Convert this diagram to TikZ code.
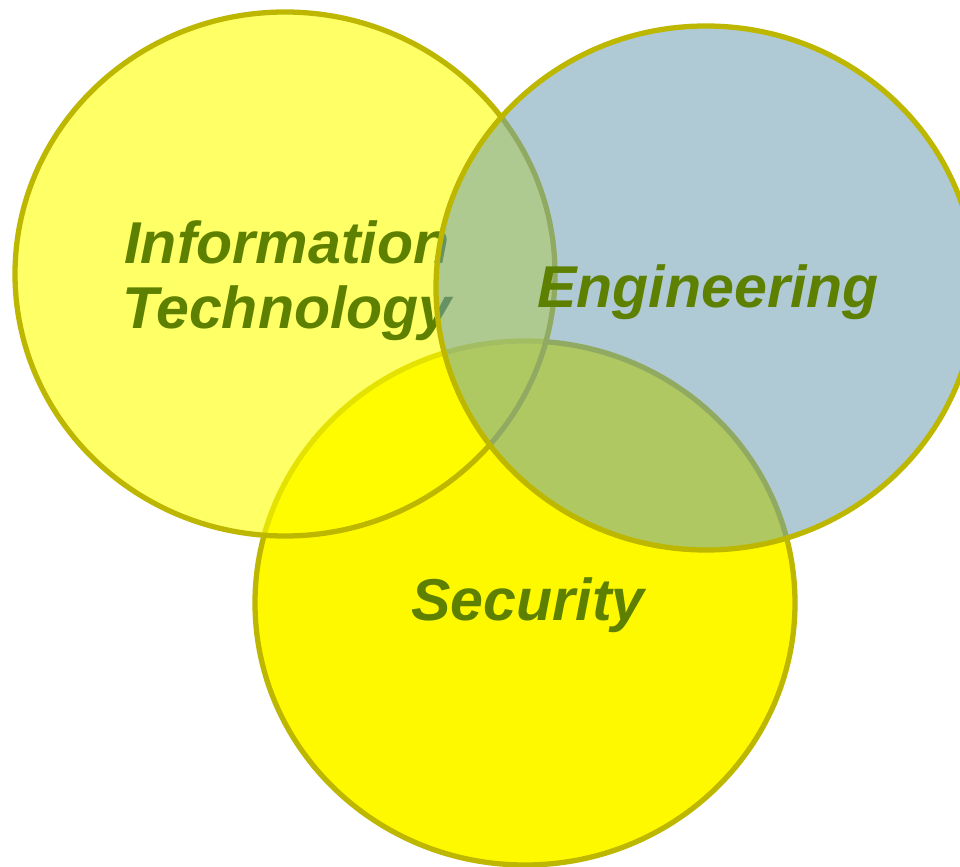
\documentclass[tikz,border=0pt]{standalone}
\usepackage{fontspec}
\setmainfont{Liberation Sans}
\definecolor{ringline}{RGB}{189,183,0}
\definecolor{itfill}{RGB}{255,255,0}
\definecolor{engfill}{RGB}{110,160,180}
\definecolor{secfill}{RGB}{255,249,0}
\definecolor{labeltext}{RGB}{94,128,0}
\tikzset{
  ring/.style={draw=ringline, line width=1.5pt},
  area/.style={rectangle, draw=none, text=labeltext, font=\fontsize{16.8}{18.6}\selectfont\bfseries\itshape, align=center}
}
\begin{document}
\begin{tikzpicture}[x=0.01cm, y=-0.01cm]
\useasboundingbox (0,0) rectangle (960,867);
\clip (0,0) rectangle (960,867);
%%%%%%%%%%%%%%%%%%%%%%%%%%%%%%% three overlapping fields
\fill[white] (0,0) rectangle (960,867);
% Security at the bottom of the stack
\draw[ring, fill=secfill] (525,603) ellipse [x radius=270, y radius=262];
\node[area](security) at (528,605){Security};
% IT lies over it, partly see-through
\draw[ring, fill=itfill, fill opacity=0.6] (285,274) ellipse [x radius=270, y radius=262];
\node[area](infotech) at (287,281){Information\\Technology};
% Engineering on top
\draw[ring, fill=engfill, fill opacity=0.55] (706,288) ellipse [x radius=270, y radius=262];
\node[area](engineering) at (708,292){Engineering};
\end{tikzpicture}
\end{document}
